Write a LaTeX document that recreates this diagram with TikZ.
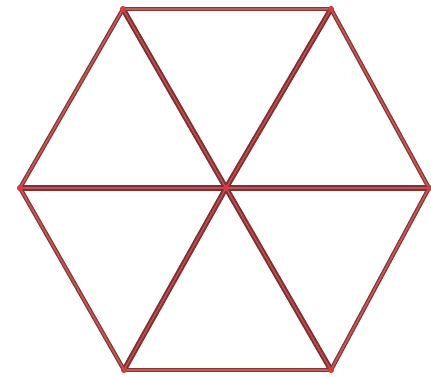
\documentclass[tikz,border=0pt]{standalone}
\definecolor{rodDark}{RGB}{140,50,50}
\definecolor{rodLight}{RGB}{185,95,95}
\definecolor{spokeDark}{RGB}{135,45,48}
\definecolor{jointRed}{RGB}{215,60,60}
\begin{document}
\begin{tikzpicture}[x=1pt,y=-1pt,
  edgeRod/.style={draw=rodDark,line width=4.2pt,line cap=round},
  edgeHi/.style={draw=rodLight,line width=1.6pt,line cap=round},
  spokeRod/.style={draw=spokeDark,line width=5.4pt,line cap=round},
  spokeHi/.style={draw=rodLight!85!rodDark,line width=1.4pt,line cap=round},
  joint/.style={circle,fill=jointRed,inner sep=0pt,minimum size=6pt}]
\useasboundingbox (0,0) rectangle (431,376);
\coordinate (O) at (226,188);
\coordinate (A) at (20,188);
\coordinate (B) at (123,9);
\coordinate (C) at (331,9);
\coordinate (D) at (429,188);
\coordinate (E) at (331,370);
\coordinate (F) at (124,370);
\foreach \p/\q in {A/B,B/C,C/D,D/E,E/F,F/A} {\draw[edgeRod] (\p) -- (\q);}
\foreach \p in {A,B,C,D,E,F} {\draw[spokeRod] (O) -- (\p);}
\foreach \p/\q in {A/B,B/C,C/D,D/E,E/F,F/A} {\draw[edgeHi] (\p) -- (\q);}
\foreach \p in {A,B,C,D,E,F} {\draw[spokeHi] (O) -- (\p);}
\foreach \p in {O,A,B,C,D,E,F} {\node[joint] (j\p) at (\p) {};}
\end{tikzpicture}
\end{document}
